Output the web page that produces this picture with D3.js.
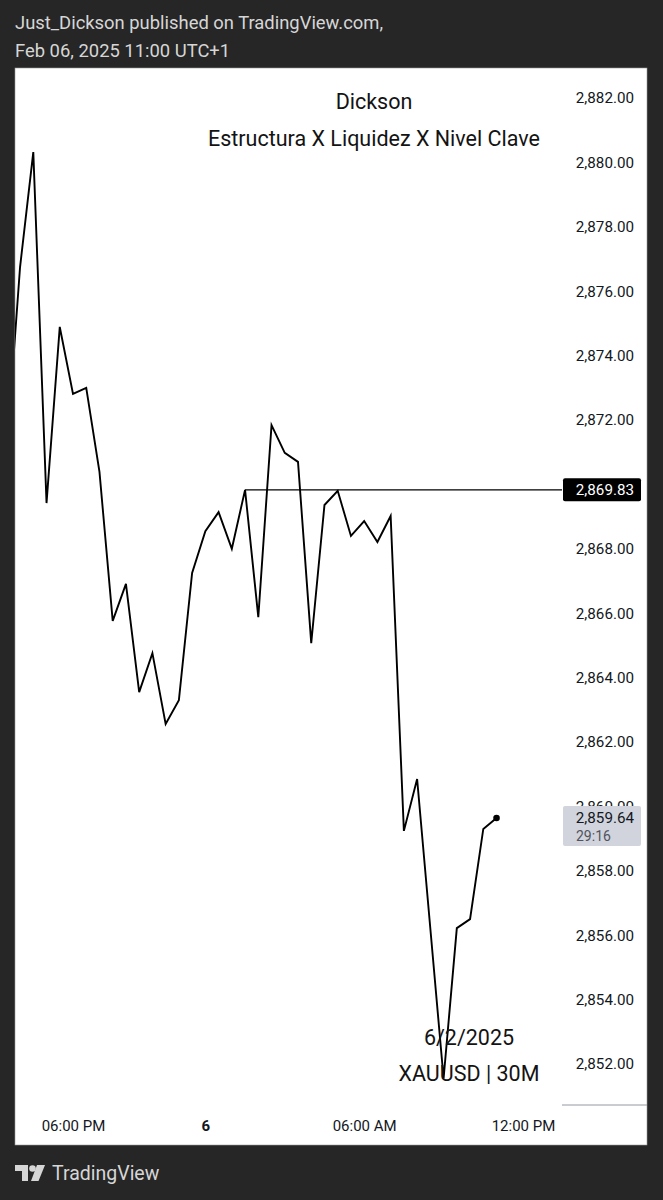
<!DOCTYPE html>
<html>
<head>
<meta charset="utf-8">
<script src="https://cdn.jsdelivr.net/npm/d3@7"></script>
<style>
  html, body { margin: 0; padding: 0; background: #262626; }
  svg { display: block; }
  text { font-family: Roboto, "Noto Sans", sans-serif; }
</style>
</head>
<body>
<svg id="chart" width="663" height="1200"></svg>
<script>
// ---- data ----
const times = ["15:30","16:00","16:30","17:00","17:30","18:00","18:30","19:00","19:30","20:00",
  "20:30","21:00","21:30","22:00","22:30","00:00","00:30","01:00","01:30","02:00",
  "02:30","03:00","03:30","04:00","04:30","05:00","05:30","06:00","06:30","07:00",
  "07:30","08:00","08:30","09:00","09:30","10:00","10:30","11:00"];
const closes = [2871.1,2876.75,2880.32,2869.42,2874.89,2872.81,2873.0,2870.39,2865.76,2866.91,
  2863.55,2864.76,2862.56,2863.3,2867.25,2868.55,2869.14,2868.0,2869.83,2865.88,
  2871.84,2870.98,2870.7,2865.07,2869.36,2869.8,2868.4,2868.86,2868.21,2869.02,
  2859.24,2860.85,2856.2,2851.55,2856.22,2856.5,2859.3,2859.64];
const priceTicks = [2852,2854,2856,2858,2860,2862,2864,2866,2868,2870,2872,2874,2876,2878,2880,2882];
const timeTickIndex = [5, 15, 27, 39];
const timeTickLabels = ["06:00 PM", "6", "06:00 AM", "12:00 PM"];
const levelPrice = 2869.83;
const levelStartIndex = 18;
const lastPrice = 2859.64;
const countdown = "29:16";
const headerLines = ["Just_Dickson published on TradingView.com,", "Feb 06, 2025 11:00 UTC+1"];
const titleLines = ["Dickson", "Estructura X Liquidez X Nivel Clave"];
const noteLines = ["6/2/2025", "XAUUSD | 30M"];

// ---- layout ----
const svg = d3.select("#chart");
const panel = {x0: 15, x1: 647, y0: 68, y1: 1145};
const plot = {x0: 15, x1: 562, y0: 68, y1: 1105};

const x = d3.scaleLinear().domain([5, 39]).range([73, 523]);
const y = d3.scaleLinear().domain([2852, 2882]).range([1064, 98]);

// header
svg.selectAll("text.hdr").data(headerLines).join("text")
  .attr("class", "hdr")
  .attr("x", 15).attr("y", (d, i) => 22 + i * 28)
  .attr("dominant-baseline", "central")
  .attr("fill", "#d6d6d6").attr("font-size", 18.4)
  .text(d => d);

// panel
svg.append("rect").attr("x", panel.x0).attr("y", panel.y0)
  .attr("width", panel.x1 - panel.x0).attr("height", panel.y1 - panel.y0)
  .attr("fill", "#ffffff").attr("stroke", "#9a9a9a").attr("stroke-width", 0.6);

svg.append("defs").append("clipPath").attr("id", "plotclip")
  .append("rect").attr("x", plot.x0).attr("y", plot.y0)
  .attr("width", plot.x1 - plot.x0).attr("height", plot.y1 - plot.y0);

const g = svg.append("g").attr("clip-path", "url(#plotclip)");

// level line
g.append("line")
  .attr("x1", x(levelStartIndex)).attr("x2", plot.x1 + 2)
  .attr("y1", y(levelPrice)).attr("y2", y(levelPrice))
  .attr("stroke", "#000").attr("stroke-width", 1.3);

// price line
const line = d3.line().x((d, i) => x(i)).y(d => y(d));
g.append("path").datum(closes)
  .attr("d", line)
  .attr("fill", "none").attr("stroke", "#000").attr("stroke-width", 1.9)
  .attr("stroke-linejoin", "miter");

// last point dot
g.append("circle").attr("cx", x(closes.length - 1)).attr("cy", y(lastPrice))
  .attr("r", 3.3).attr("fill", "#000");

// titles
svg.selectAll("text.ttl").data(titleLines).join("text")
  .attr("class", "ttl")
  .attr("x", 374).attr("y", (d, i) => 101 + i * 37)
  .attr("text-anchor", "middle").attr("dominant-baseline", "central")
  .attr("fill", "#131313").attr("font-size", 21.5)
  .text(d => d);

svg.selectAll("text.note").data(noteLines).join("text")
  .attr("class", "note")
  .attr("x", 469).attr("y", (d, i) => 1037 + i * 36)
  .attr("text-anchor", "middle").attr("dominant-baseline", "central")
  .attr("fill", "#131313").attr("font-size", 21.5)
  .text(d => d);

// price axis
const yAxis = d3.axisRight(y).tickValues(priceTicks)
  .tickSize(0).tickPadding(0)
  .tickFormat(d3.format(",.2f"));
const ya = svg.append("g").attr("transform", "translate(634,0)").call(yAxis);
ya.select(".domain").remove();
ya.selectAll("text").attr("text-anchor", "end").attr("x", 0)
  .attr("fill", "#131722").attr("font-size", 15.2)
  .attr("font-family", "Roboto, sans-serif");

// level label box
const lb = svg.append("g");
lb.append("rect").attr("x", 563).attr("y", y(levelPrice) - 11.5)
  .attr("width", 78).attr("height", 23).attr("rx", 2).attr("fill", "#000");
lb.append("text").attr("x", 634).attr("y", y(levelPrice))
  .attr("text-anchor", "end").attr("dominant-baseline", "central")
  .attr("fill", "#fff").attr("font-size", 15.2)
  .text(d3.format(",.2f")(levelPrice));

// last price box
const cb = svg.append("g");
const cy = y(lastPrice);
cb.append("rect").attr("x", 563).attr("y", cy - 12)
  .attr("width", 78).attr("height", 40).attr("rx", 2).attr("fill", "#d1d4dc");
cb.append("text").attr("x", 634).attr("y", cy)
  .attr("text-anchor", "end").attr("dominant-baseline", "central")
  .attr("fill", "#131722").attr("font-size", 15.2)
  .text(d3.format(",.2f")(lastPrice));
cb.append("text").attr("x", 576).attr("y", cy + 18)
  .attr("text-anchor", "start").attr("dominant-baseline", "central")
  .attr("fill", "#50535e").attr("font-size", 14)
  .text(countdown);

// time axis separator under price axis
svg.append("line").attr("x1", 562).attr("x2", panel.x1)
  .attr("y1", plot.y1).attr("y2", plot.y1)
  .attr("stroke", "#9598a1").attr("stroke-width", 1);

// time axis
const xAxis = d3.axisBottom(x).tickValues(timeTickIndex)
  .tickSize(0).tickPadding(0)
  .tickFormat((d, i) => timeTickLabels[i]);
const xa = svg.append("g").attr("transform", "translate(0,1126)").call(xAxis);
xa.select(".domain").remove();
xa.selectAll("text").attr("dy", null).attr("dominant-baseline", "central")
  .attr("fill", "#131722").attr("font-size", 15)
  .attr("font-family", "Roboto, sans-serif")
  .attr("font-weight", (d, i) => timeTickLabels[i] === "6" ? "bold" : "normal");

// footer logo
const logo = svg.append("g").attr("fill", "#d6d6d6");
logo.append("path").attr("d", "M15,1165 H28 V1181 H22 V1171 H15 Z");
logo.append("circle").attr("cx", 32.5).attr("cy", 1168.5).attr("r", 3.3);
logo.append("path").attr("d", "M37,1165 H45 L38.5,1181 H31 Z");
svg.append("text").attr("x", 52).attr("y", 1173)
  .attr("dominant-baseline", "central")
  .attr("fill", "#d6d6d6").attr("font-size", 19.5)
  .text("TradingView");
</script>
</body>
</html>
